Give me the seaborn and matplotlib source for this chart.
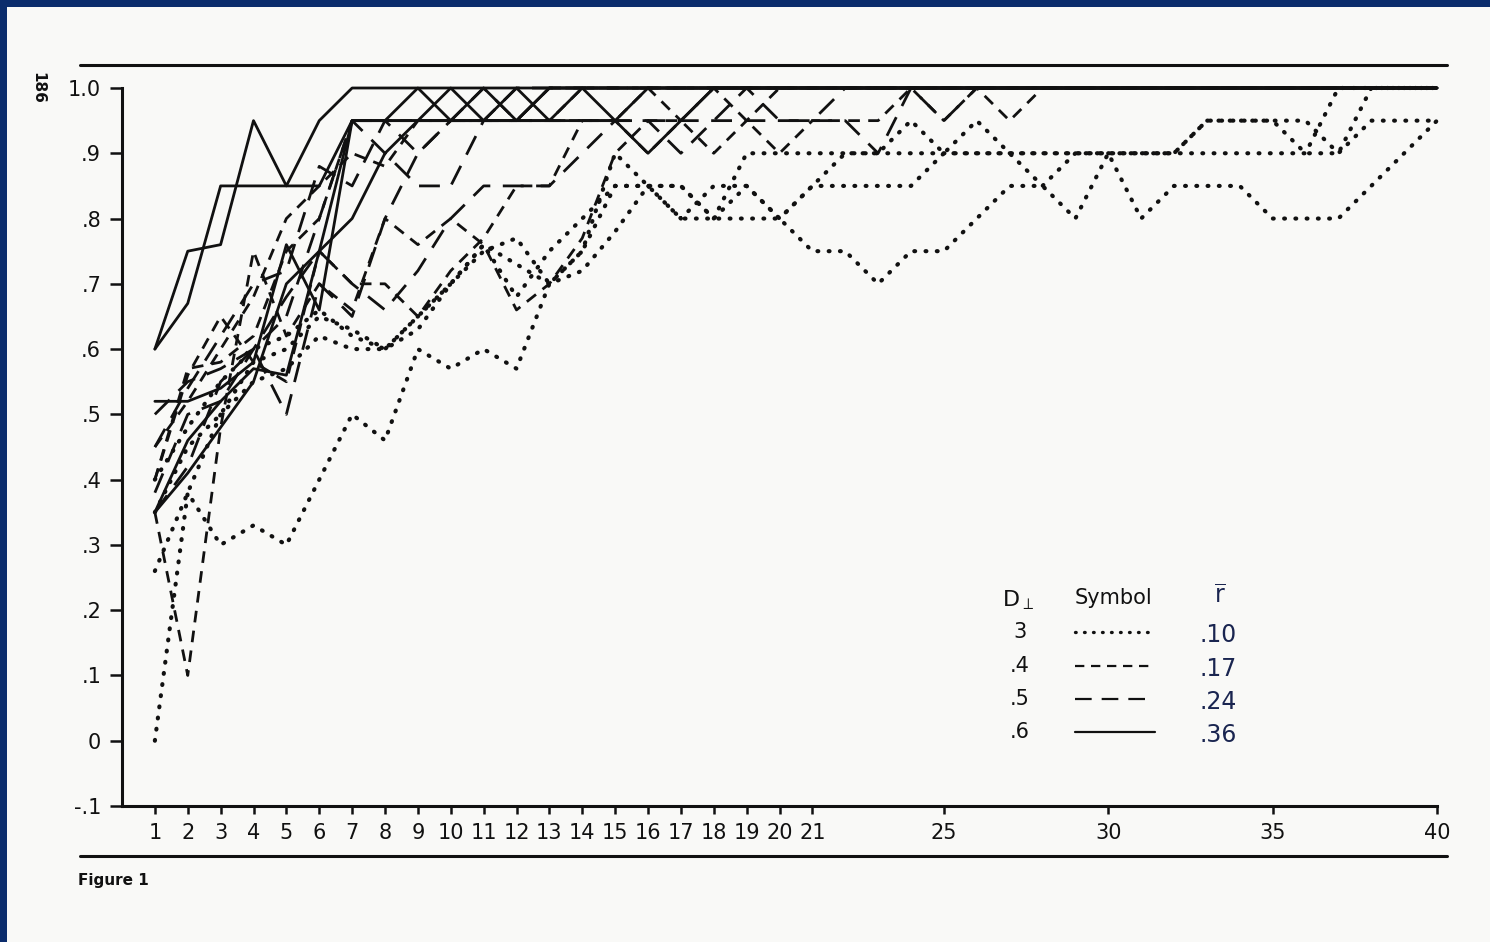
import matplotlib
matplotlib.use("Agg")
import matplotlib.pyplot as plt
import seaborn as sns
import pandas as pd
from matplotlib.lines import Line2D
from matplotlib.patches import Rectangle

# trials on the x axis
TRIALS = list(range(1, 41))

# D = 3 (dotted)
d3a = [0.00, .38, .30, .33, .30, .40, .50, .46, .60, .57,
       .60, .57, .70, .72, .78, .85, .85, .80, .85, .80,
       .85, .85, .85, .85, .90, .90, .90, .90, .90, .90,
       .90, .90, .95, .95, .95, .90, .90, 1.0, 1.0, 1.0]
d3b = [.26, .38, .50, .55, .57, .62, .60, .60, .65, .70,
       .76, .73, .70, .75, .90, .85, .80, .80, .80, .80,
       .75, .75, .70, .75, .75, .80, .85, .85, .80, .90,
       .80, .85, .85, .85, .80, .80, .80, .85, .90, .95]
d3c = [.40, .48, .55, .60, .62, .66, .62, .60, .63, .70,
       .76, .68, .75, .80, .85, .85, .85, .80, .90, .90,
       .90, .90, .90, .90, .90, .90, .90, .90, .90, .90,
       .90, .90, .90, .90, .90, .90, 1.0, 1.0, 1.0, 1.0]
d3d = [.35, .45, .50, .58, .60, .65, .63, .60, .65, .70,
       .75, .77, .70, .75, .85, .85, .80, .85, .85, .80,
       .85, .90, .90, .95, .90, .95, .90, .85, .90, .90,
       .90, .90, .95, .95, .95, .95, .90, .95, .95, .95]

# D = 4 (short dashes)
d4a = [.35, .10, .48, .75, .62, .70, .66, .80, .76, .80,
       .76, .66, .70, .77, .90, .95, .95, .90, .95, 1.0,
       1.0, 1.0, 1.0, 1.0, 1.0, 1.0, 1.0, 1.0, 1.0, 1.0,
       1.0, 1.0, 1.0, 1.0, 1.0, 1.0, 1.0, 1.0, 1.0, 1.0]
d4b = [.40, .56, .65, .58, .55, .75, .70, .70, .65, .72,
       .77, .85, .85, .95, .95, 1.0, .95, 1.0, 1.0, 1.0,
       1.0, 1.0, 1.0, 1.0, 1.0, 1.0, 1.0, 1.0, 1.0, 1.0,
       1.0, 1.0, 1.0, 1.0, 1.0, 1.0, 1.0, 1.0, 1.0, 1.0]
d4c = [.45, .52, .60, .68, .80, .85, .90, .88, .95, .95,
       .95, .95, .95, .95, .95, .90, .95, 1.0, .95, .90,
       .95, .95, .95, 1.0, .95, 1.0, .95, 1.0, 1.0, 1.0,
       1.0, 1.0, 1.0, 1.0, 1.0, 1.0, 1.0, 1.0, 1.0, 1.0]
d4d = [.40, .57, .58, .62, .75, .80, .95, .95, .95, .95,
       .95, .95, .95, 1.0, 1.0, 1.0, 1.0, 1.0, 1.0, 1.0,
       1.0, 1.0, 1.0, 1.0, 1.0, 1.0, 1.0, 1.0, 1.0, 1.0,
       1.0, 1.0, 1.0, 1.0, 1.0, 1.0, 1.0, 1.0, 1.0, 1.0]

# D = 5 (long dashes)
d5a = [.50, .55, .57, .60, .65, .80, .95, .90, .85, .85,
       .95, 1.0, 1.0, 1.0, 1.0, 1.0, 1.0, 1.0, 1.0, 1.0,
       1.0, 1.0, 1.0, 1.0, 1.0, 1.0, 1.0, 1.0, 1.0, 1.0,
       1.0, 1.0, 1.0, 1.0, 1.0, 1.0, 1.0, 1.0, 1.0, 1.0]
d5b = [.45, .54, .62, .70, .72, .88, .85, .95, .90, .95,
       .95, .95, .95, .95, .95, .95, .95, .95, .95, .95,
       .95, .95, .90, 1.0, .95, 1.0, 1.0, 1.0, 1.0, 1.0,
       1.0, 1.0, 1.0, 1.0, 1.0, 1.0, 1.0, 1.0, 1.0, 1.0]
d5c = [.35, .42, .55, .60, .50, .70, .65, .80, .90, .95,
       1.0, .95, 1.0, 1.0, 1.0, 1.0, 1.0, 1.0, 1.0, 1.0,
       1.0, 1.0, 1.0, 1.0, 1.0, 1.0, 1.0, 1.0, 1.0, 1.0,
       1.0, 1.0, 1.0, 1.0, 1.0, 1.0, 1.0, 1.0, 1.0, 1.0]
d5d = [.38, .50, .52, .60, .68, .75, .70, .66, .72, .80,
       .85, .85, .85, .90, .95, .95, .90, .95, 1.0, .95,
       .95, 1.0, 1.0, 1.0, 1.0, 1.0, 1.0, 1.0, 1.0, 1.0,
       1.0, 1.0, 1.0, 1.0, 1.0, 1.0, 1.0, 1.0, 1.0, 1.0]

# D = 6 (solid)
d6a = [.60, .75, .76, .95, .85, .95, 1.0, 1.0, 1.0, 1.0,
       1.0, 1.0, 1.0, 1.0, 1.0, 1.0, 1.0, 1.0, 1.0, 1.0,
       1.0, 1.0, 1.0, 1.0, 1.0, 1.0, 1.0, 1.0, 1.0, 1.0,
       1.0, 1.0, 1.0, 1.0, 1.0, 1.0, 1.0, 1.0, 1.0, 1.0]
d6b = [.60, .67, .85, .85, .85, .85, .95, .95, 1.0, .95,
       .95, .95, 1.0, 1.0, 1.0, 1.0, 1.0, 1.0, 1.0, 1.0,
       1.0, 1.0, 1.0, 1.0, 1.0, 1.0, 1.0, 1.0, 1.0, 1.0,
       1.0, 1.0, 1.0, 1.0, 1.0, 1.0, 1.0, 1.0, 1.0, 1.0]
d6c = [.52, .52, .54, .58, .76, .66, .95, .95, .95, .95,
       1.0, .95, .95, .95, .95, 1.0, 1.0, 1.0, 1.0, 1.0,
       1.0, 1.0, 1.0, 1.0, 1.0, 1.0, 1.0, 1.0, 1.0, 1.0,
       1.0, 1.0, 1.0, 1.0, 1.0, 1.0, 1.0, 1.0, 1.0, 1.0]
d6d = [.35, .46, .52, .57, .56, .75, .80, .90, .95, .95,
       .95, 1.0, .95, 1.0, .95, .90, .95, 1.0, 1.0, 1.0,
       1.0, 1.0, 1.0, 1.0, 1.0, 1.0, 1.0, 1.0, 1.0, 1.0,
       1.0, 1.0, 1.0, 1.0, 1.0, 1.0, 1.0, 1.0, 1.0, 1.0]
d6e = [.35, .41, .48, .55, .70, .75, .95, .95, .95, 1.0,
       .95, .95, 1.0, 1.0, 1.0, 1.0, 1.0, 1.0, 1.0, 1.0,
       1.0, 1.0, 1.0, 1.0, 1.0, 1.0, 1.0, 1.0, 1.0, 1.0,
       1.0, 1.0, 1.0, 1.0, 1.0, 1.0, 1.0, 1.0, 1.0, 1.0]

GROUPS = {
    "3": [d3a, d3b, d3c, d3d],
    "4": [d4a, d4b, d4c, d4d],
    "5": [d5a, d5b, d5c, d5d],
    "6": [d6a, d6b, d6c, d6d, d6e],
}
R_BAR = [".10", ".17", ".24", ".36"]
D_LABELS = ["3", ".4", ".5", ".6"]

X_TICKS = list(range(1, 22)) + [25, 30, 35, 40]
Y_TICKS = [-0.1, 0.0, 0.1, 0.2, 0.3, 0.4, 0.5, 0.6, 0.7, 0.8, 0.9, 1.0]
Y_LABELS = ["-.1", "0", ".1", ".2", ".3", ".4", ".5", ".6", ".7", ".8", ".9", "1.0"]

STYLES = {
    "3": dict(linestyle=(0, (0.2, 2.5)), lw=3.0, dash_capstyle="round"),
    "4": dict(linestyle=(0, (4.2, 3.0)), lw=2.0),
    "5": dict(linestyle=(0, (7.5, 4.5)), lw=2.0),
    "6": dict(linestyle="-", lw=2.0),
}

rows = []
for d, curves in GROUPS.items():
    for i, vals in enumerate(curves):
        for t, v in zip(TRIALS, vals):
            rows.append({"D": d, "curve": f"{d}-{i}", "trial": t, "p": v})
df = pd.DataFrame(rows)

sns.set_style("ticks")
plt.rcParams["font.family"] = ["DejaVu Sans"]

W, H = 1490, 942
fig = plt.figure(figsize=(W / 100, H / 100), dpi=100)
fig.patch.set_facecolor("#0b2c6c")
fig.add_artist(Rectangle((7 / W, 0), 1, 1 - 7 / H, transform=fig.transFigure,
                         facecolor="#f9f9f7", edgecolor="none", zorder=-10))

ax = fig.add_axes([122 / W, 1 - 806 / H, (1437 - 122) / W, (806 - 88) / H])
ax.set_facecolor("none")

for d in ["3", "4", "5", "6"]:
    sub = df[df["D"] == d]
    sns.lineplot(data=sub, x="trial", y="p", units="curve", estimator=None,
                 color="#111111", sort=False, legend=False, ax=ax,
                 clip_on=False, **STYLES[d])

ax.set_xlim(0, 40)
ax.set_ylim(-0.1, 1.0)
ax.set_xticks(X_TICKS)
ax.set_xticklabels([str(t) for t in X_TICKS])
ax.set_yticks(Y_TICKS)
ax.set_yticklabels(Y_LABELS)
ax.set_xlabel("")
ax.set_ylabel("")
for s in ["top", "right"]:
    ax.spines[s].set_visible(False)
for s in ["left", "bottom"]:
    ax.spines[s].set_linewidth(2.2)
    ax.spines[s].set_color("#111111")
ax.tick_params(axis="both", colors="#111111", width=1.8, labelsize=15)
ax.tick_params(axis="y", length=9, pad=6)
ax.tick_params(axis="x", length=6, pad=6)

# horizontal rules above and below the plot
fig.add_artist(Line2D([80 / W, 1447 / W], [1 - 65 / H, 1 - 65 / H], color="#111111", lw=2.2))
fig.add_artist(Line2D([80 / W, 1447 / W], [1 - 856 / H, 1 - 856 / H], color="#111111", lw=2.2))
fig.text(78 / W, 1 - 880 / H, "Figure 1", fontsize=11, fontweight="bold",
         color="#111111", va="center", ha="left")
fig.text(38 / W, 1 - 88 / H, "186", fontsize=11, fontweight="bold",
         color="#111111", rotation=-90, va="center", ha="center")

# legend table
fig.text(1018 / W, 1 - 600 / H, r"$\mathrm{D}_{\perp}$", fontsize=16, ha="center", va="center", color="#111111")
fig.text(1113 / W, 1 - 598 / H, "Symbol", fontsize=15, ha="center", va="center", color="#111111")
fig.text(1220 / W, 1 - 596 / H, r"$\overline{\mathrm{r}}$", fontsize=17, ha="center", va="center", color="#1a2550")
row_y = [632, 666, 699, 732]
for d, lab, rb, yy in zip(["3", "4", "5", "6"], D_LABELS, R_BAR, row_y):
    fig.text(1020 / W, 1 - yy / H, lab, fontsize=15, ha="center", va="center", color="#111111")
    st = STYLES[d]
    fig.add_artist(Line2D([1075 / W, 1155 / W], [1 - yy / H, 1 - yy / H], color="#111111",
                          linestyle=st["linestyle"], lw=st["lw"] * 0.8,
                          dash_capstyle=st.get("dash_capstyle", "butt")))
    fig.text(1218 / W, 1 - (yy + 3) / H, rb, fontsize=17, ha="center", va="center", color="#1a2550")

fig.savefig("out.png", dpi=100, facecolor=fig.get_facecolor())
